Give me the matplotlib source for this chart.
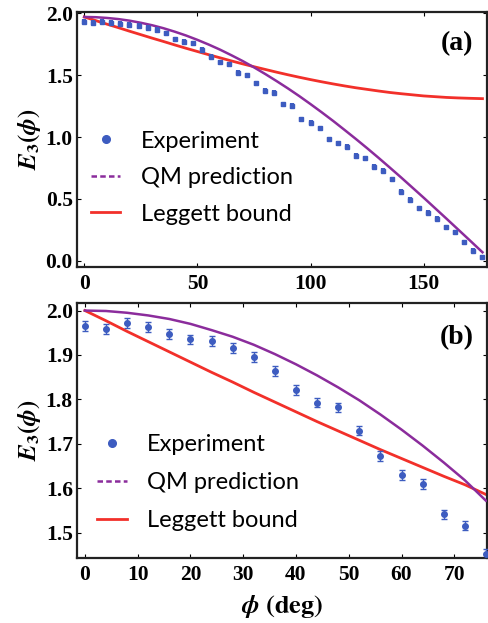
import matplotlib
matplotlib.use("Agg")
import matplotlib.pyplot as plt
from matplotlib.lines import Line2D

# ---------------- data: panel (a) ----------------
phi_a = [0, 4, 8, 12, 16, 20, 24, 28, 32, 36, 40, 44, 48, 52, 56, 60, 64, 68, 72,
         76, 80, 84, 88, 92, 96, 100, 104, 108, 112, 116, 120, 124, 128, 132, 136,
         140, 144, 148, 152, 156, 160, 164, 168, 172, 176]
exp_a = [1.933, 1.925, 1.933, 1.925, 1.914, 1.906, 1.898, 1.884, 1.865, 1.838,
         1.790, 1.771, 1.757, 1.704, 1.650, 1.604, 1.588, 1.520, 1.499, 1.434,
         1.375, 1.358, 1.264, 1.251, 1.143, 1.116, 1.070, 0.981, 0.949, 0.922,
         0.846, 0.827, 0.760, 0.728, 0.658, 0.558, 0.491, 0.423, 0.390, 0.340,
         0.270, 0.230, 0.150, 0.083, 0.027]
err_a = 0.022

curve_phi_a = [0, 5, 10, 15, 20, 25, 30, 35, 40, 45, 50, 55, 60, 65, 70, 75, 80,
               85, 90, 95, 100, 105, 110, 115, 120, 125, 130, 135, 140, 145, 150,
               155, 160, 165, 170, 176]
qm_a = [1.970, 1.968, 1.962, 1.953, 1.940, 1.923, 1.903, 1.879, 1.851, 1.820,
        1.785, 1.747, 1.706, 1.661, 1.614, 1.563, 1.509, 1.452, 1.393, 1.331,
        1.266, 1.199, 1.130, 1.058, 0.985, 0.910, 0.833, 0.754, 0.674, 0.592,
        0.510, 0.426, 0.342, 0.257, 0.172, 0.069]
leggett_a = [1.970, 1.941, 1.912, 1.884, 1.855, 1.827, 1.799, 1.772, 1.744, 1.717,
             1.691, 1.665, 1.640, 1.615, 1.591, 1.568, 1.546, 1.524, 1.503, 1.483,
             1.464, 1.446, 1.429, 1.413, 1.398, 1.385, 1.372, 1.360, 1.350, 1.341,
             1.332, 1.326, 1.320, 1.316, 1.313, 1.310]

# ---------------- data: panel (b) ----------------
phi_b = [0, 4, 8, 12, 16, 20, 24, 28, 32, 36, 40, 44, 48, 52, 56, 60, 64, 68, 72, 76]
exp_b = [1.965, 1.958, 1.972, 1.963, 1.948, 1.935, 1.931, 1.916, 1.895, 1.864,
         1.822, 1.793, 1.782, 1.730, 1.672, 1.630, 1.610, 1.541, 1.516, 1.452]
err_b = 0.011

curve_phi_b = [0, 4, 8, 12, 16, 20, 24, 28, 32, 36, 40, 44, 48, 52, 56, 60, 64,
               68, 72, 76]
qm_b = [2.000, 1.999, 1.995, 1.989, 1.981, 1.970, 1.956, 1.941, 1.923, 1.902,
        1.879, 1.854, 1.827, 1.798, 1.766, 1.732, 1.696, 1.658, 1.618, 1.572]
leggett_b = [2.000, 1.977, 1.953, 1.930, 1.907, 1.884, 1.861, 1.839, 1.816, 1.794,
             1.772, 1.750, 1.729, 1.708, 1.687, 1.667, 1.647, 1.627, 1.608, 1.586]

xticks_a = [0, 50, 100, 150]
yticks_a = [0.0, 0.5, 1.0, 1.5, 2.0]
xticks_b = [0, 10, 20, 30, 40, 50, 60, 70]
yticks_b = [1.5, 1.6, 1.7, 1.8, 1.9, 2.0]

labels = ["Experiment", "QM prediction", "Leggett bound"]

# ---------------- style ----------------
BLUE = "#3d5cc0"
PURPLE = "#8b2c9c"
RED = "#f2302a"

plt.rcParams["mathtext.fontset"] = "stix"
SERIF = "Liberation Serif"
TICKSIZE = 15.5
LEGSIZE = 17

fig = plt.figure(figsize=(4.88, 6.23), dpi=100)
W, H = 488, 623
def axrect(l, t, r, b):
    return [l / W, 1 - b / H, (r - l) / W, (b - t) / H]

ax_a = fig.add_axes(axrect(77, 12, 487, 267))
ax_b = fig.add_axes(axrect(77, 303, 487, 558))

def style(ax, xt, yt, xlim, ylim):
    ax.set_xlim(*xlim)
    ax.set_ylim(*ylim)
    ax.set_xticks(xt)
    ax.set_yticks(yt)
    ax.set_yticklabels([f"{v:.1f}" for v in yt])
    ax.set_xticklabels([str(v) for v in xt])
    ax.tick_params(direction="in", length=3, width=0.8, top=True, right=True,
                   labelsize=TICKSIZE)
    ax.tick_params(axis="x", pad=5)
    ax.tick_params(axis="y", pad=3)
    for lab in ax.get_xticklabels() + ax.get_yticklabels():
        lab.set_fontfamily(SERIF)
        lab.set_fontweight("bold")
    for s in ax.spines.values():
        s.set_linewidth(1.6)
        s.set_color("#222222")
    ax.set_ylabel(r"$\boldsymbol{E}_{\mathbf{3}}\mathbf{(}\boldsymbol{\phi}\mathbf{)}$",
                  fontsize=18, labelpad=2)

def legend(ax, anchor, spacing):
    handles = [
        Line2D([], [], ls="none", marker="o", color=BLUE, markersize=5.5),
        Line2D([], [], ls=(0, (2.2, 1.3)), color=PURPLE, lw=1.8),
        Line2D([], [], ls="-", color=RED, lw=2.0),
    ]
    ax.legend(handles, labels, loc="upper left", bbox_to_anchor=anchor,
              frameon=False, handlelength=1.25, handletextpad=0.85,
              labelspacing=spacing, borderaxespad=0, borderpad=0, numpoints=1,
              prop={"family": "Lato", "size": LEGSIZE})

# panel (a)
ax = ax_a
style(ax, xticks_a, yticks_a, (-3.2, 178), (-0.05, 2.01))
ax.plot(curve_phi_a, leggett_a, color=RED, lw=2.0, zorder=2)
ax.plot(curve_phi_a, qm_a, color=PURPLE, lw=1.8, zorder=3)
ax.errorbar(phi_a, exp_a, yerr=err_a, fmt="s", color=BLUE, ms=3.2,
            elinewidth=3.0, capsize=0, zorder=4)
legend(ax, (0.034, 0.535), 0.66)
ax.text(0.927, 0.878, "(a)", transform=ax.transAxes, ha="center", va="center",
        fontfamily=SERIF, fontweight="bold", fontsize=20)

# panel (b)
ax = ax_b
style(ax, xticks_b, yticks_b, (-1.5, 76.2), (1.443, 2.017))
ax.plot(curve_phi_b, leggett_b, color=RED, lw=2.0, zorder=2)
ax.plot(curve_phi_b, qm_b, color=PURPLE, lw=1.8, zorder=3)
ax.errorbar(phi_b, exp_b, yerr=err_b, fmt="o", color=BLUE, ms=4.0,
            elinewidth=1.0, capsize=2.2, capthick=1.0, zorder=4)
legend(ax, (0.049, 0.485), 0.72)
ax.text(0.927, 0.863, "(b)", transform=ax.transAxes, ha="center", va="center",
        fontfamily=SERIF, fontweight="bold", fontsize=20)
ax.set_xlabel(r"$\boldsymbol{\phi}\ \mathbf{(deg)}$", fontsize=19, labelpad=6)

fig.savefig("out.png", dpi=100)
